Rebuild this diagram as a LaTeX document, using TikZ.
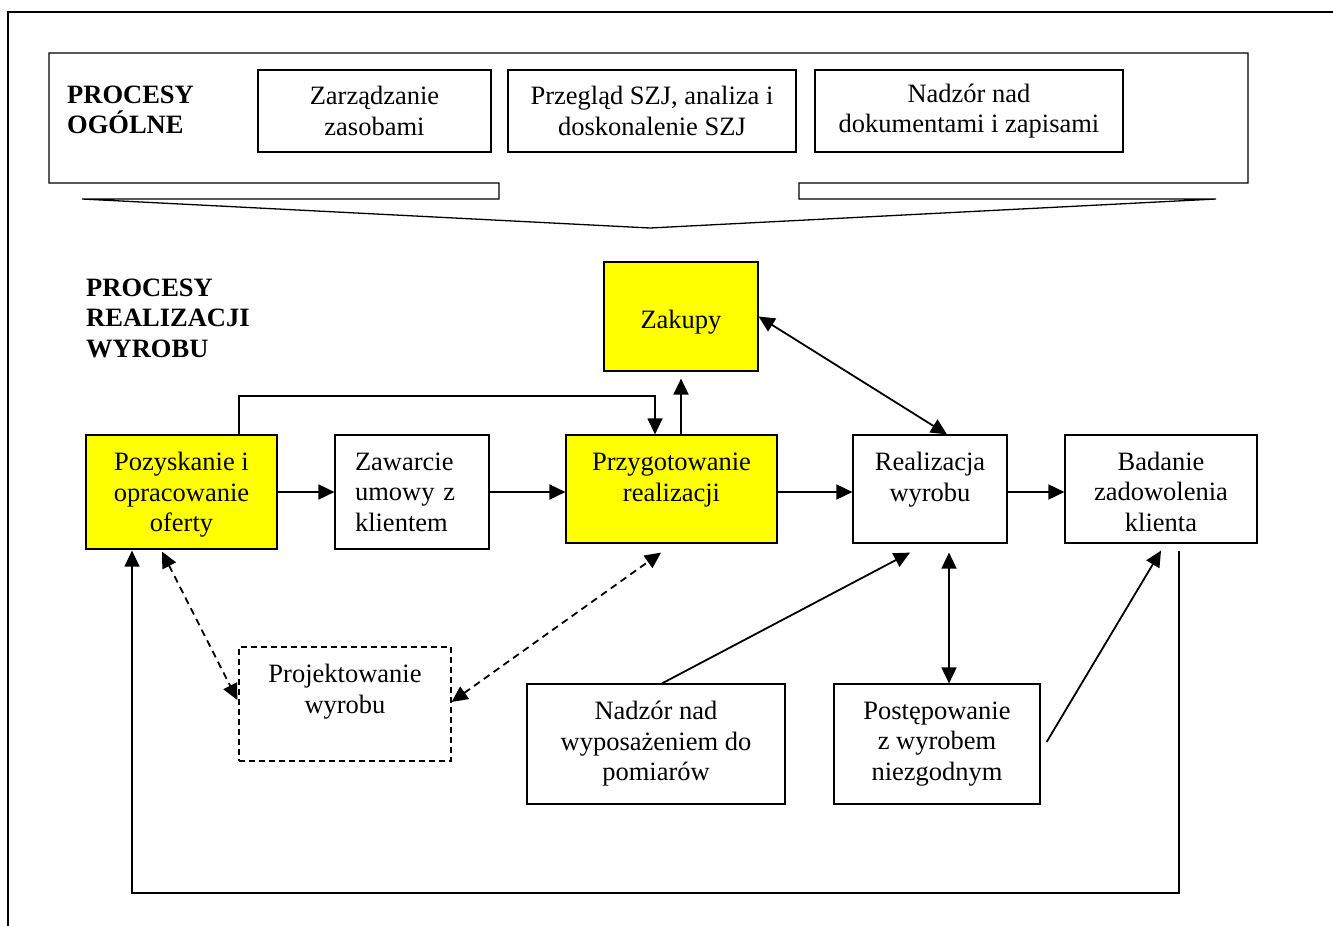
\documentclass[tikz,border=0pt]{standalone}
\usepackage{fontspec}
\setmainfont{Liberation Serif}
\usetikzlibrary{arrows.meta,calc}
\definecolor{procyellow}{RGB}{255,255,0}
\newcommand{\dropline}{\rule{0pt}{24pt}}
\tikzset{
  txt/.style={font=\fontsize{26.5}{30.5}\selectfont},
  box/.style={txt, draw=black, line width=1.2pt, rectangle, inner sep=0pt, align=center},
  ybox/.style={box, fill=procyellow},
  dbox/.style={box, dash pattern=on 6pt off 4pt},
  lbl/.style={font=\fontsize{26.5}{30.5}\selectfont\bfseries, align=left, anchor=west, inner sep=0pt},
  arr/.style={line width=1.8pt, -{Triangle[length=16pt,width=15pt]}},
  arrb/.style={line width=1.8pt, {Triangle[length=16pt,width=15pt]}-{Triangle[length=16pt,width=15pt]}},
  darrb/.style={arrb, dash pattern=on 7pt off 5pt},
  thin/.style={line width=1.3pt}
}
\begin{document}
\begin{tikzpicture}[x=1pt,y=-1pt]
\useasboundingbox (0,0) rectangle (1333,926);
% outer frame
\draw[thin] (1333,12) -- (8,12) -- (8,926);
% general processes callout
\draw[thin] (49,53) -- (1248,53) -- (1248,183) -- (799,183) -- (799,199) -- (1216,199)
  -- (650,228) -- (82,199) -- (499,199) -- (499,183) -- (49,183) -- cycle;
\node[lbl] (lgen) at (67,110) {PROCESY\\OGÓLNE};
\node[box, minimum width=233pt, minimum height=82pt] (zarz) at (374.5,111) {Zarządzanie\\zasobami};
\node[box, minimum width=288pt, minimum height=82pt] (przeg) at (652,111) {Przegląd SZJ, analiza i\\doskonalenie SZJ};
\node[box, minimum width=308pt, minimum height=82pt] (ndok) at (969,111) {Nadzór nad\\dokumentami i zapisami};
% product realisation
\node[lbl] (lreal) at (86,318) {PROCESY\\REALIZACJI\\WYROBU};
\node[ybox, minimum width=154pt, minimum height=109pt] (zakupy) at (681,316.5) {\rule{0pt}{30pt}Zakupy};
\node[ybox, minimum width=191pt, minimum height=114pt] (pozysk) at (181.5,492) {\dropline Pozyskanie i\\opracowanie\\oferty};
\node[box, text width=114pt, inner xsep=20pt, align=left, minimum width=154pt, minimum height=114pt] (zawar) at (412,492) {Zawarcie\\umowy z\\klientem};
\node[ybox, minimum width=211pt, minimum height=108pt] (przyg) at (671.5,489) {\dropline Przygotowanie\\realizacji\\~};
\node[box, minimum width=154pt, minimum height=108pt] (realiz) at (930,489) {\dropline Realizacja\\wyrobu\\~};
\node[box, minimum width=192pt, minimum height=108pt] (badan) at (1161,489) {\dropline Badanie\\zadowolenia\\klienta};
\node[dbox, minimum width=212pt, minimum height=114pt] (proj) at (345,704) {Projektowanie\\wyrobu\\~};
\node[box, minimum width=258pt, minimum height=120pt] (nadzw) at (656,744) {Nadzór nad\\wyposażeniem do\\pomiarów};
\node[box, minimum width=206pt, minimum height=120pt] (post) at (937,744) {Postępowanie\\z wyrobem\\niezgodnym};
% main flow
\draw[arr] (pozysk.east) -- (zawar.west);
\draw[arr] (zawar.east) -- (zawar.east -| przyg.west);
\draw[arr] ($(przyg.east)+(0,3)$) -- ($(realiz.west)+(0,3)$);
\draw[arr] ($(realiz.east)+(0,3)$) -- ($(badan.west)+(0,3)$);
% route over the top
\coordinate (r1) at (239,396);
\coordinate (r2) at (655,396);
\draw[thin, -{Triangle[length=16pt,width=15pt]}] (pozysk.north -| r1) -- (r1) -- (r2) -- (r2 |- przyg.north);
% to purchases
\draw[arr, shorten >=7pt] (przyg.north -| zakupy.south) -- (zakupy.south);
\draw[arrb] (zakupy.east) -- ($(realiz.north)+(17,0)$);
% supporting processes
\draw[arr] ($(nadzw.north)+(6,0)$) -- ($(realiz.south)+(-20,9)$);
\draw[arrb] ($(realiz.south)+(19,9)$) -- ($(post.north)+(12,0)$);
\draw[arr] ($(post.east)+(6,-2)$) -- ($(badan.south)+(0,7)$);
% feedback loop
\coordinate (fb1) at (1179,893);
\coordinate (fb2) at (132,893);
\draw[thin, -{Triangle[length=16pt,width=15pt]}] ($(badan.south)+(18,7)$) -- (fb1) -- (fb2) -- ($(pozysk.south)+(-49.5,1)$);
% design (dashed)
\draw[darrb] ($(pozysk.south)+(-19.5,2)$) -- ($(proj.west)+(-1,-4)$);
\draw[darrb] ($(proj.east)+(0,-2)$) -- ($(przyg.south)+(-10.5,9)$);
\end{tikzpicture}
\end{document}
